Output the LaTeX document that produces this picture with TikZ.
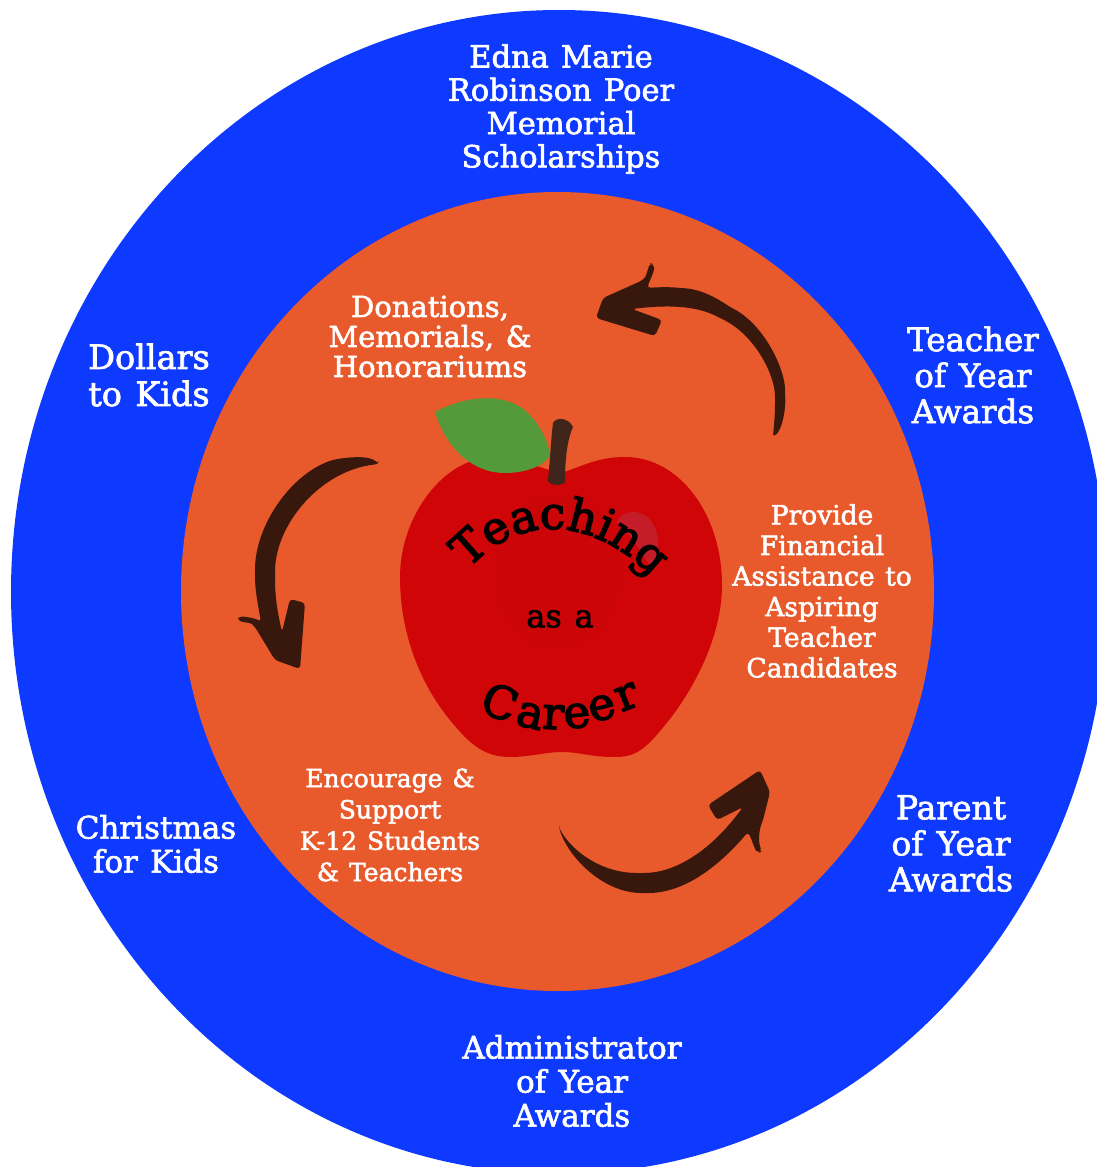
\documentclass[tikz,border=0pt]{standalone}
\usepackage{fontspec}
\usetikzlibrary{decorations.text}
\setmainfont{DejaVu Serif}[FakeBold=2,WordSpace=1.25]
\newfontfamily\curvefont{DejaVu Serif}[FakeBold=3]
\definecolor{ringblue}{HTML}{0E39FF}
\definecolor{ringorange}{HTML}{E8592B}
\definecolor{applered}{HTML}{CF0508}
\definecolor{applecore}{HTML}{CB0508}
\definecolor{shine}{HTML}{C51C2A}
\definecolor{leafgreen}{HTML}{559A3A}
\definecolor{stembrown}{HTML}{40251A}
\definecolor{arrowbrown}{HTML}{38170C}
\newcommand{\fs}[2]{\fontsize{#1}{#2}\selectfont}
\tikzset{
  lab/.style={text=white,align=center,inner sep=0pt},
  brush/.style={fill=arrowbrown,draw=none,rounded corners=3.5pt},
  glyph/.style={inner sep=0pt,text=black,font=\curvefont\fs{45}{47}},
}
\begin{document}
\begin{tikzpicture}[x=1pt,y=-1pt]
\useasboundingbox (0,0) rectangle (1097,1167);
\fill[white] (0,0) rectangle (1097,1167);
\begin{scope}
\clip (0,0) rectangle (1097,1167);
\fill[ringblue] (559,592) ellipse [x radius=548,y radius=582];
\end{scope}
\fill[ringorange] (557.5,591.5) ellipse [x radius=376.5,y radius=399.5];
% apple
\fill[applered] (560,473) .. controls (580,468) and (595,457) .. (625,457)
  .. controls (680,457) and (722,515) .. (722,585)
  .. controls (722,640) and (690,695) .. (665,725)
  .. controls (645,750) and (635,757) .. (615,757)
  .. controls (590,757) and (580,752) .. (562,752)
  .. controls (545,752) and (530,757) .. (510,757)
  .. controls (485,757) and (470,745) .. (450,720)
  .. controls (425,690) and (400,640) .. (400,577)
  .. controls (400,515) and (445,458) .. (490,458)
  .. controls (520,458) and (540,468) .. (560,473) -- cycle;
\fill[applecore] (545,497) .. controls (600,490) and (620,520) .. (619,580)
  .. controls (618,625) and (590,648) .. (557,648)
  .. controls (520,648) and (496,620) .. (495,575)
  .. controls (494,530) and (515,500) .. (545,497) -- cycle;
\fill[shine] (617,522) .. controls (622,510) and (640,508) .. (650,520)
  .. controls (662,535) and (660,555) .. (650,567)
  .. controls (640,548) and (628,532) .. (617,522) -- cycle;
\fill[leafgreen] (435,412) .. controls (465,396) and (500,393) .. (522,408)
  .. controls (538,420) and (548,440) .. (550,455)
  .. controls (545,466) and (525,473) .. (505,473)
  .. controls (470,473) and (445,445) .. (435,412) -- cycle;
\fill[stembrown] (553,423) .. controls (556,417) and (568,417) .. (573,427)
  .. controls (567,440) and (565,460) .. (565,482)
  .. controls (562,486) and (551,486) .. (548,481)
  .. controls (550,460) and (551,440) .. (553,423) -- cycle;
% arrows
\fill[brush] (773,437) .. controls (782,430) and (786,410) .. (785,393)
  .. controls (785,370) and (765,325) .. (730,307)
  .. controls (715,297) and (700,289) .. (680,288)
  .. controls (670,287) and (660,287) .. (647,288)
  .. controls (650,280) and (655,270) .. (653,264) -- (650,263)
  .. controls (647,272) and (646,277) .. (641,281)
  -- (603,298) -- (596,318) -- (655,336) -- (662,320) -- (632,309)
  .. controls (665,305) and (695,305) .. (720,318)
  .. controls (755,335) and (775,375) .. (775,400)
  .. controls (775,415) and (774,425) .. (773,437) -- cycle;
\fill[brush] (379,464) .. controls (370,456) and (355,457) .. (345,458)
  .. controls (300,463) and (255,520) .. (255,573)
  .. controls (255,590) and (258,605) .. (261,622)
  .. controls (255,618) and (246,617) .. (240,616) -- (237,620)
  .. controls (245,623) and (250,622) .. (255,627)
  -- (275,660) -- (300,669) -- (305,603) -- (290,599) -- (282,632)
  .. controls (277,610) and (275,595) .. (275,575)
  .. controls (275,525) and (320,470) .. (379,464) -- cycle;
\fill[brush] (559,828) .. controls (570,860) and (605,893) .. (645,893)
  .. controls (685,893) and (720,865) .. (748,832)
  .. controls (752,840) and (755,850) .. (759,853) -- (762,851)
  .. controls (758,842) and (759,830) .. (763,820)
  -- (770,792) -- (760,770) -- (708,805) -- (717,820) -- (743,807)
  .. controls (715,845) and (680,873) .. (640,873)
  .. controls (605,873) and (575,855) .. (559,828) -- cycle;
% labels
\node[lab,font=\fs{30.5}{33.3}] (edna) at (561,109) {Edna Marie\\Robinson Poer\\Memorial\\Scholarships};
\node[lab,font=\fs{32.5}{36}] (teacher) at (973,375) {Teacher\\of Year\\Awards};
\node[lab,font=\fs{33.5}{37}] (dollars) at (149,375) {Dollars\\to Kids};
\node[lab,font=\fs{31}{34}] (christmas) at (156,844) {Christmas\\for Kids};
\node[lab,font=\fs{33}{36}] (parent) at (951,843.5) {Parent\\of Year\\Awards};
\node[lab,font=\fs{31}{34}] (admin) at (572,1081) {Administrator\\of Year\\Awards};
\node[lab,font=\fs{29}{30}] (donations) at (430,336.5) {Donations,\\Memorials, \&\\Honorariums};
\node[lab,font=\fs{26.5}{30.6}] (provide) at (822,591) {Provide\\Financial\\Assistance to\\Aspiring\\Teacher\\Candidates};
\node[lab,font=\fs{25}{31.3}] (encourage) at (390,825) {Encourage \&\\Support\\K-12 Students\\\& Teachers};
\node[inner sep=0pt,text=black,font=\fs{32}{34}] (asa) at (560,619) {as a};
% curved apple text
\path[decorate,decoration={text along path,text align=center,
  text={|\curvefont\fs{45}{47}\color{black}|Teaching}}]
  (449,595) .. controls (504,506) and (599,506) .. (674,601);
\node[glyph,rotate=-22] (c1) at (500,702) {C};
\node[glyph,rotate=-13] (c2) at (530,716) {a};
\node[glyph,rotate=-3] (c3) at (553,717) {r};
\node[glyph,rotate=6] (c4) at (577,716) {e};
\node[glyph,rotate=14] (c5) at (602,708) {e};
\node[glyph,rotate=22] (c6) at (627,697) {r};
\end{tikzpicture}
\end{document}
